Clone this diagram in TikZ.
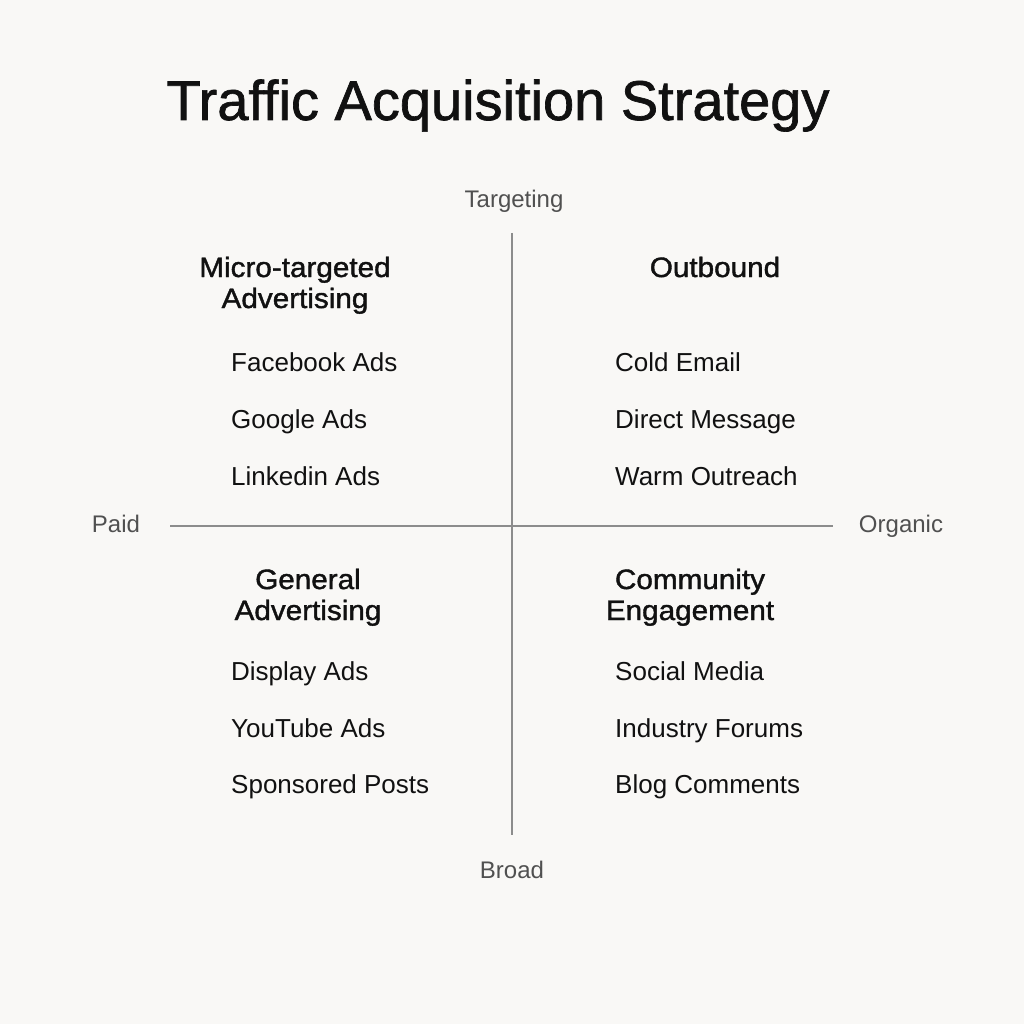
\documentclass[tikz,border=0pt]{standalone}
\usepackage{fontspec}
\setmainfont{Liberation Sans}
\newfontfamily\titlefont[FakeBold=1.2]{Liberation Sans}
\newfontfamily\headfont[FakeBold=1.4,FakeStretch=1.06]{Liberation Sans}
\definecolor{bg}{HTML}{F9F8F6}
\definecolor{axis}{HTML}{8C8C8C}
\definecolor{lbl}{HTML}{505050}
\definecolor{ink}{HTML}{111111}
\tikzset{
  ttl/.style={anchor=base,inner sep=0pt,text=ink,font=\titlefont\fontsize{56}{60}\selectfont},
  head/.style={anchor=base,inner sep=0pt,text=ink,align=center,font=\headfont\fontsize{28}{31}\selectfont},
  item/.style={anchor=base west,inner sep=0pt,text=ink,font=\fontsize{26}{30}\selectfont},
  axlbl/.style={anchor=base,inner sep=0pt,text=lbl,font=\fontsize{24}{28}\selectfont},
  axline/.style={draw=axis,line width=1.6pt}
}
\begin{document}
\begin{tikzpicture}[x=1pt,y=-1pt]
\fill[bg] (0,0) rectangle (1024,1024);
\useasboundingbox (0,0) rectangle (1024,1024);
\node[ttl] (title) at (498,120) {Traffic Acquisition Strategy};
% axes
\coordinate (vtop) at (512,233);
\coordinate (vbot) at (512,835);
\coordinate (hleft) at (170,526);
\coordinate (hright) at (833,526);
\draw[axline] (vtop) -- (vbot);
\draw[axline] (hleft) -- (hright);
\node[axlbl] (targ) at (514,208) {Targeting};
\node[axlbl] (broad) at (512,878) {Broad};
\node[axlbl] (paid) at (116,532) {Paid};
\node[axlbl] (org) at (901,532) {Organic};
% headings (base anchor = baseline of last line)
\node[head] (h1) at (295,308) {Micro-targeted\\Advertising};
\node[head] (h2) at (715,277) {Outbound};
\node[head] (h3) at (308,620) {General\\Advertising};
\node[head] (h4) at (690,620) {Community\\Engagement};
% items
\node[item] (a1) at (231,371) {Facebook Ads};
\node[item] (a2) at (231,428) {Google Ads};
\node[item] (a3) at (231,485) {Linkedin Ads};
\node[item] (b1) at (615,371) {Cold Email};
\node[item] (b2) at (615,428) {Direct Message};
\node[item] (b3) at (615,485) {Warm Outreach};
\node[item] (c1) at (231,680) {Display Ads};
\node[item] (c2) at (231,737) {YouTube Ads};
\node[item] (c3) at (231,793) {Sponsored Posts};
\node[item] (d1) at (615,680) {Social Media};
\node[item] (d2) at (615,737) {Industry Forums};
\node[item] (d3) at (615,793) {Blog Comments};
\end{tikzpicture}
\end{document}
